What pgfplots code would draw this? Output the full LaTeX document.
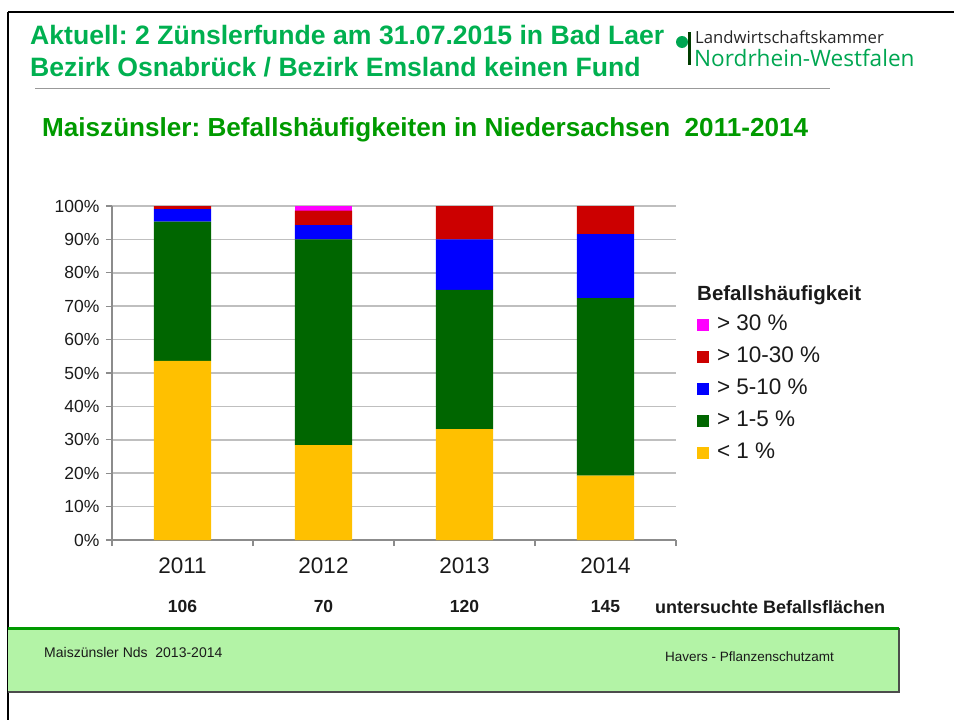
\documentclass[border=0pt]{standalone}
\usepackage{pgfplots}
\pgfplotsset{compat=1.18}
\usepackage{fontspec}
\setmainfont{Liberation Sans}
\newfontfamily\logofont{Open Sans}
\definecolor{cYel}{HTML}{FFC000}
\definecolor{cGrn}{HTML}{006600}
\definecolor{cBlu}{HTML}{0000FF}
\definecolor{cRed}{HTML}{CC0000}
\definecolor{cMag}{HTML}{FF00FF}
\definecolor{hdrGreen}{HTML}{00B050}
\definecolor{ttlGreen}{HTML}{009A00}
\definecolor{logoGreen}{HTML}{00A651}
\definecolor{footFill}{HTML}{B3F3A6}
\definecolor{footLine}{HTML}{009900}
\definecolor{gridGray}{HTML}{BFBFBF}
\definecolor{axGray}{HTML}{8C8C8C}
\definecolor{txt}{HTML}{1A1A1A}
\frenchspacing
\begin{document}
\begin{tikzpicture}
\path[use as bounding box] (0pt,0pt) rectangle (954pt,-720pt);
\begin{scope}[x=1pt,y=1pt]
  % slide frame
  \draw[black, line width=2pt] (8,-12) -- (954,-12);
  \draw[black, line width=2pt] (8,-12) -- (8,-720);
  % header
  \node[anchor=west, inner sep=0pt, text=hdrGreen, font=\fontsize{26.6}{30}\selectfont\bfseries] at (30,-35) {Aktuell: 2 Zünslerfunde am 31.07.2015 in Bad Laer};
  \node[anchor=west, inner sep=0pt, text=hdrGreen, font=\fontsize{26.6}{30}\selectfont\bfseries] at (30,-67) {Bezirk Osnabrück / Bezirk Emsland keinen Fund};
  % logo
  \fill[logoGreen] (682,-42) circle (6);
  \fill[black!60!green!60!black] (688,-32) rectangle (691,-65);
  \node[anchor=west, inner sep=0pt, text=black!85, font=\logofont\fontsize{16.7}{19}\selectfont] at (695,-37) {Landwirtschaftskammer};
  \node[anchor=west, inner sep=0pt, text=logoGreen, font=\logofont\fontsize{22.6}{26}\selectfont] at (694,-58) {Nordrhein-Westfalen};
  \draw[black!40, line width=1pt] (35,-88) -- (830,-88);
  % chart title
  \node[anchor=west, inner sep=0pt, text=ttlGreen, font=\fontsize{26.1}{30}\selectfont\bfseries] at (42,-130) {Maiszünsler: Befallshäufigkeiten in Niedersachsen\ \ 2011-2014};
  % legend title
  \node[anchor=west, inner sep=0pt, text=txt, font=\fontsize{20.5}{24}\selectfont\bfseries] at (697,-295) {Befallshäufigkeit};
  % footer box
  \fill[footFill] (8,-628) rectangle (899,-692);
  \draw[black!70, line width=1.5pt] (899,-628) -- (899,-692) -- (8,-692);
  \draw[footLine, line width=3pt] (8,-628) -- (899,-628);
  \node[anchor=west, inner sep=0pt, text=txt, font=\fontsize{14}{16}\selectfont] at (44,-652) {Maiszünsler Nds\ \ 2013-2014};
  \node[anchor=west, inner sep=0pt, text=txt, font=\fontsize{13.5}{16}\selectfont] at (665,-657) {Havers - Pflanzenschutzamt};
\end{scope}
\begin{axis}[
  at={(112pt,-540pt)}, anchor=south west,
  width=564pt, height=334pt, scale only axis,
  xmin=-0.5, xmax=3.5, ymin=0, ymax=100,
  ybar stacked, bar width=57pt,
  axis x line*=bottom, axis y line*=left,
  axis line style={axGray, line width=1.3pt},
  xtick={-0.5,0.5,1.5,2.5,3.5}, xticklabels={},
  extra x ticks={0,1,2,3},
  extra x tick labels={2011,2012,2013,2014},
  extra x tick style={major tick length=0pt, xticklabel style={font=\fontsize{22.5}{26}\selectfont, text=txt, yshift=-14pt}},
  ytick={0,10,...,100},
  yticklabel={\pgfmathprintnumber{\tick}\%},
  yticklabel style={font=\fontsize{17.5}{20}\selectfont, text=txt, xshift=-3pt},
  /pgf/number format/assume math mode=true,
  tick align=outside, major tick length=6pt,
  tick style={axGray, line width=1.2pt},
  ymajorgrids, major grid style={gridGray, line width=1.6pt},
  clip=false,
  legend style={at={(1.037,0.670)}, anchor=north west, draw=none, fill=none, inner sep=0pt,
    row sep=14pt, column sep=8pt, font=\fontsize{22.5}{25}\selectfont,
    nodes={inner sep=0pt, text height=14pt, text depth=4pt, text=txt}},
  legend cell align=left,
  legend image code/.code={\fill[#1] (0pt,-6pt) rectangle (12pt,6pt);},
  reverse legend,
]
\addplot[fill=cYel, draw=none] coordinates {(0,53.6) (1,28.4) (2,33.2) (3,19.3)};
\addplot[fill=cGrn, draw=none] coordinates {(0,41.7) (1,61.6) (2,41.7) (3,53.1)};
\addplot[fill=cBlu, draw=none] coordinates {(0,3.8) (1,4.3) (2,15.1) (3,19.2)};
\addplot[fill=cRed, draw=none] coordinates {(0,0.9) (1,4.3) (2,10.0) (3,8.4)};
\addplot[fill=cMag, draw=none] coordinates {(0,0) (1,1.4) (2,0) (3,0)};
\legend{< 1 \%, > 1-5 \%, > 5-10 \%, > 10-30 \%, > 30 \%}
\node[font=\fontsize{17.5}{20}\selectfont\bfseries, text=txt] at (axis cs:0,-20) {106};
\node[font=\fontsize{17.5}{20}\selectfont\bfseries, text=txt] at (axis cs:1,-20) {70};
\node[font=\fontsize{17.5}{20}\selectfont\bfseries, text=txt] at (axis cs:2,-20) {120};
\node[font=\fontsize{17.5}{20}\selectfont\bfseries, text=txt] at (axis cs:3,-20) {145};
\node[anchor=west, inner sep=0pt, font=\fontsize{18}{20}\selectfont\bfseries, text=txt] at (axis cs:3.35,-20) {untersuchte Befallsflächen};
\end{axis}
\end{tikzpicture}
\end{document}
